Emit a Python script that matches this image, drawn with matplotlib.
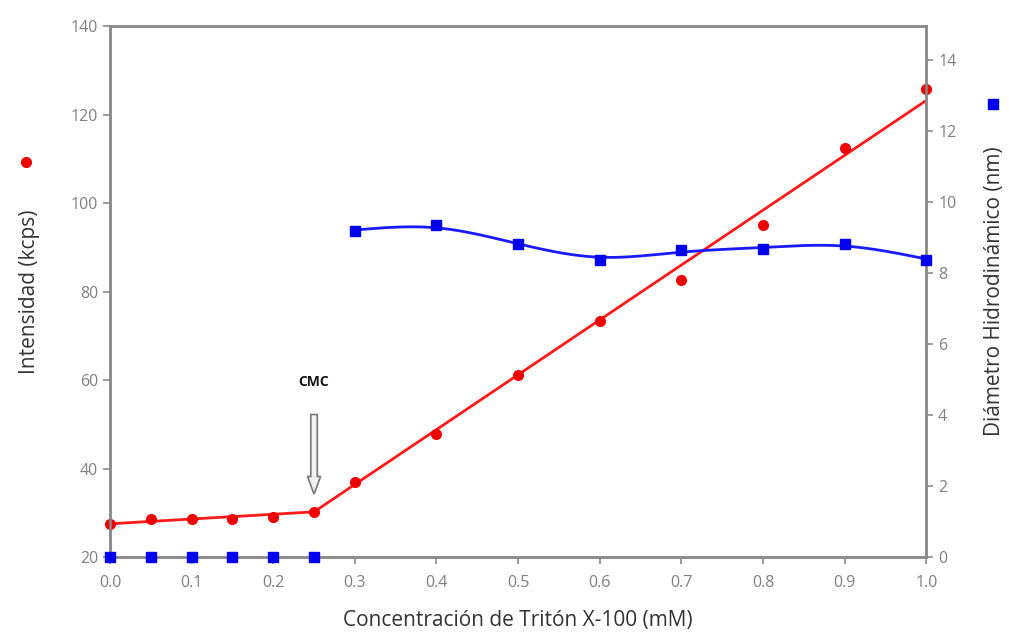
import numpy as np
import matplotlib.pyplot as plt
from matplotlib.patches import FancyArrow

plt.rcParams['font.family'] = ['Open Sans', 'DejaVu Sans']

# Triton X-100 concentration (mM)
conc = [0.0, 0.05, 0.1, 0.15, 0.2, 0.25, 0.3, 0.4, 0.5, 0.6, 0.7, 0.8, 0.9, 1.0]
# Scattered intensity (kcps)
intensity = [27.5, 28.6, 28.6, 28.6, 29.0, 30.2, 37.0, 47.8, 61.1, 73.3, 82.6, 95.0, 112.4, 125.8]
# Hydrodynamic diameter (nm)
diameter = [0, 0, 0, 0, 0, 0, 9.18, 9.35, 8.82, 8.37, 8.65, 8.68, 8.82, 8.37]

# Two-segment linear fit of intensity (break at the CMC)
fit_x = [0.0, 0.25, 1.0]
fit_y = [27.5, 30.2, 123.2]

cmc = 0.25


def smooth_curve(x, y, lam, step=0.005):
    """Penalised (second-difference) smoothing curve through scattered points."""
    x = np.asarray(x, float)
    y = np.asarray(y, float)
    n = int(round((x[-1] - x[0]) / step)) + 1
    grid = np.linspace(x[0], x[-1], n)
    idx = np.round((x - x[0]) / step).astype(int)
    w = np.zeros(n)
    z = np.zeros(n)
    w[idx] = 1.0
    z[idx] = y
    d = np.diff(np.eye(n), 2, axis=0)
    f = np.linalg.solve(np.diag(w) + lam * d.T @ d, w * z)
    return grid, f


grey = '#8a8a8a'
fig = plt.figure(figsize=(10.09, 6.38), dpi=100)
ax = fig.add_axes([0.109, 0.127, 0.809, 0.832])
ax2 = ax.twinx()

ax.set_xlim(0, 1.0)
ax.set_ylim(20, 140)
ax2.set_ylim(0, 14.96)

# Intensity series
ax.plot(fit_x, fit_y, color='#ff1a1a', lw=2, zorder=3)
ax.plot(conc, intensity, 'o', color='#ee0000', ms=7, zorder=4, clip_on=False)

# Diameter series with smooth trend above the CMC
cx = np.array(conc)
cd = np.array(diameter)
mask = cx >= 0.3
xs, ys = smooth_curve(cx[mask], cd[mask], lam=350)
ax2.plot(xs, ys, color='#1a1aff', lw=2, zorder=3)
ax2.plot(cx, cd, 's', color='#0000ee', ms=7.5, zorder=5, clip_on=False)

# CMC marker
ax.text(cmc, 59.5, 'CMC', ha='center', va='center', fontsize=10, fontweight='bold', color='#111111')
ax.add_patch(FancyArrow(cmc, 52.2, 0, -18.0, width=0.008, head_width=0.016,
                        head_length=4.0, length_includes_head=True,
                        facecolor='#f2f2f2', edgecolor='#777777', lw=1.2, zorder=6))

for a in (ax, ax2):
    for s in a.spines.values():
        s.set_color(grey)
        s.set_linewidth(1.8)
    a.tick_params(colors=grey, labelcolor='#808080', labelsize=11.5, width=1.2, length=5)

ax.set_xticks(np.arange(0, 1.01, 0.1))
ax.set_xticklabels([f'{v:.1f}' for v in np.arange(0, 1.01, 0.1)])
ax.set_yticks(range(20, 141, 20))
ax2.set_yticks(range(0, 15, 2))
ax.tick_params(axis='x', pad=8)

ax.set_xlabel('Concentración de Tritón X-100 (mM)', fontsize=15, color='#333333', labelpad=14)
ax.set_ylabel('Intensidad (kcps)', fontsize=15, color='#333333', labelpad=22)
ax2.set_ylabel('Diámetro Hidrodinámico (nm)', fontsize=15, color='#333333', labelpad=20)

# Series keys next to the axis titles
fig.lines.append(plt.Line2D([26 / 1009], [1 - 162 / 638], marker='o', color='#ee0000',
                            ms=7, ls='none', transform=fig.transFigure))
fig.lines.append(plt.Line2D([993 / 1009], [1 - 104 / 638], marker='s', color='#0000ee',
                            ms=7.5, ls='none', transform=fig.transFigure))

fig.savefig('out.png', dpi=100)
